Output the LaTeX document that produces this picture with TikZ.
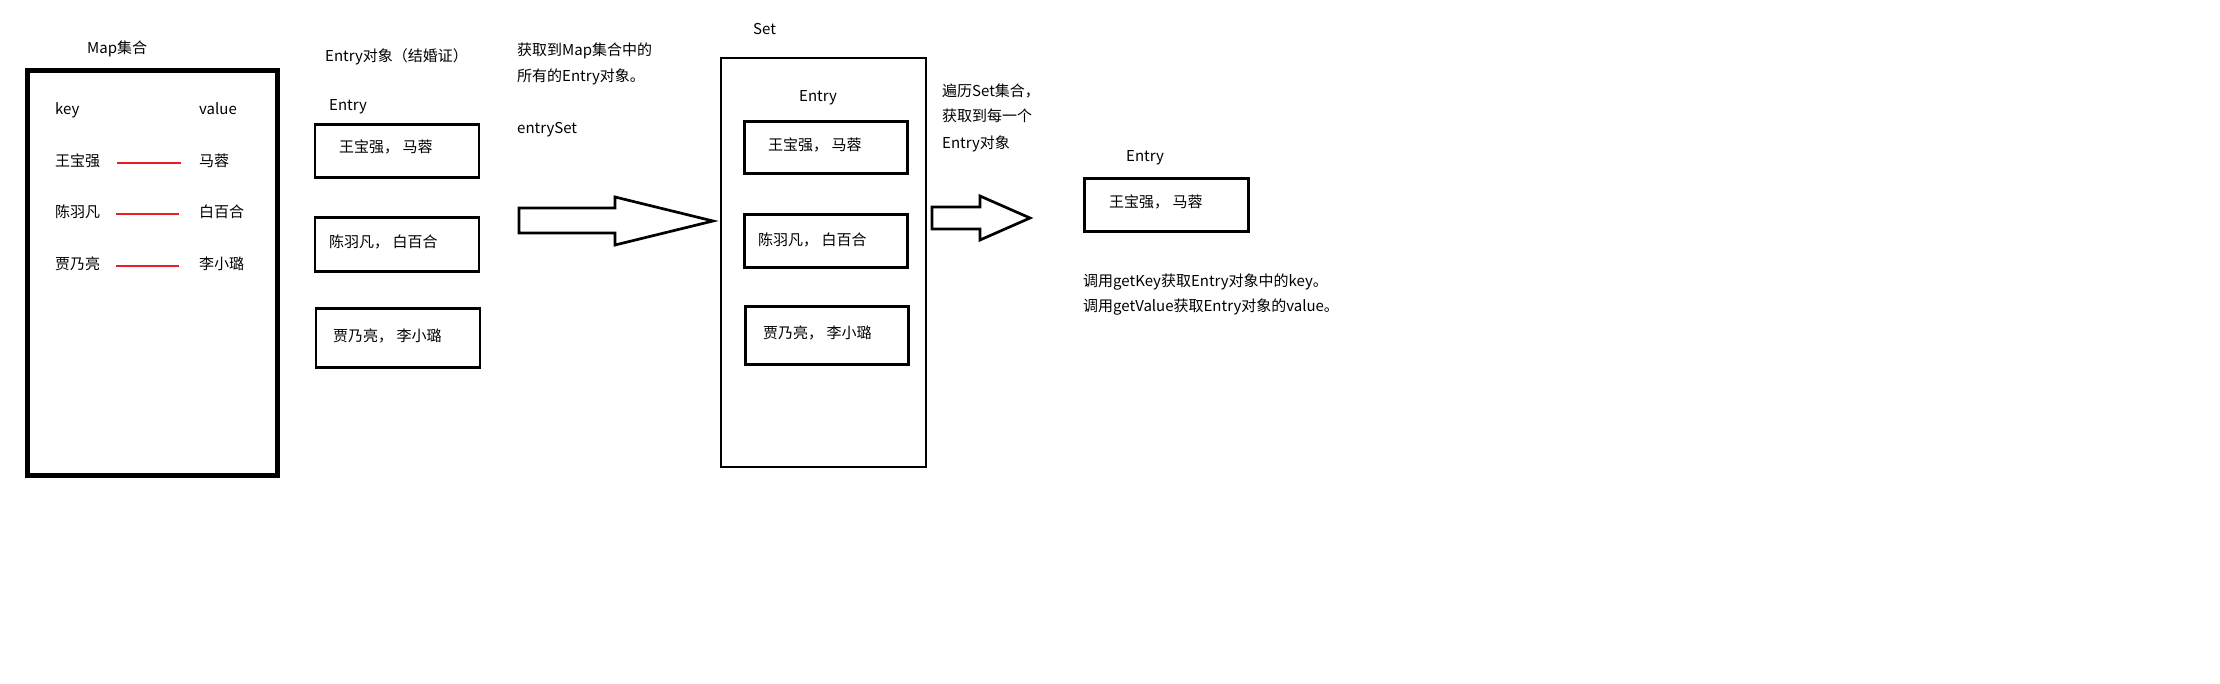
\documentclass[tikz,border=0pt]{standalone}
\usepackage{fontspec}
\setmainfont{Noto Sans CJK SC}
\begin{document}
\begin{tikzpicture}[x=1pt,y=-1pt,
  txt/.style={inner sep=0pt,anchor=west,text height=0.88em,text depth=0.12em,font=\fontsize{15pt}{18pt}\selectfont},
  mapbox/.style={draw,line width=5pt,inner sep=0pt},
  setbox/.style={draw,line width=2.7pt,inner sep=0pt},
  ebox/.style={draw,line width=2.8pt,inner sep=0pt,minimum width=164pt},
  redline/.style={draw={rgb,255:red,232;green,28;blue,36},line width=1.3pt},
  blockarrow/.style={draw,line width=2.7pt,line join=miter,fill=white}]
\useasboundingbox (0,0) rectangle (2220,683);
% Map
\node[txt] (mapt) at (87,50) {Map集合};
\node[mapbox,minimum width=250pt,minimum height=405pt] (map) at (152.5,273) {};
\node[txt] (key) at (55,111) {key};
\node[txt] (val) at (199,111) {value};
\node[txt] (k1) at (55,163) {王宝强};
\node[txt] (v1) at (199,163) {马蓉};
\node[txt] (k2) at (55,214) {陈羽凡};
\node[txt] (v2) at (199,214) {白百合};
\node[txt] (k3) at (55,266) {贾乃亮};
\node[txt] (v3) at (199,266) {李小璐};
\draw[redline] ([xshift=17pt]k1.east) -- ([xshift=-18pt]v1.west);
\draw[redline] ([xshift=16pt]k2.east) -- ([xshift=-20pt]v2.west);
\draw[redline] ([xshift=16pt]k3.east) -- ([xshift=-20pt]v3.west);
% Entry objects
\node[txt] (et) at (325,58) {Entry对象（结婚证）};
\node[txt] (el) at (329,107) {Entry};
\node[ebox,minimum height=53pt] (b1) at (397,151) {};
\node[txt] (t1) at (339,149) {王宝强， 马蓉};
\node[ebox,minimum height=54pt] (b2) at (397,244.5) {};
\node[txt] (t2) at (329,244) {陈羽凡， 白百合};
\node[ebox,minimum height=59pt] (b3) at (398,338) {};
\node[txt] (t3) at (333,338) {贾乃亮， 李小璐};
% description 1
\node[txt] (d1) at (517,52) {获取到Map集合中的};
\node[txt] (d2) at (517,78) {所有的Entry对象。};
\node[txt] (es) at (517,130) {entrySet};
\draw[blockarrow] (519,208) -- (615,208) -- (615,197) -- (713,221) -- (615,245) -- (615,233) -- (519,233) -- cycle;
% Set
\node[txt] (st) at (753,31) {Set};
\node[setbox,minimum width=205pt,minimum height=409pt] (set) at (823.5,262.5) {};
\node[txt] (sel) at (799,98) {Entry};
\node[ebox,minimum width=163pt,minimum height=52pt] (s1) at (826,147.5) {};
\node[txt] (st1) at (768,147) {王宝强， 马蓉};
\node[ebox,minimum width=163pt,minimum height=53pt] (s2) at (826,241) {};
\node[txt] (st2) at (758,242) {陈羽凡， 白百合};
\node[ebox,minimum width=163pt,minimum height=58pt] (s3) at (827,335.5) {};
\node[txt] (st3) at (763,335) {贾乃亮， 李小璐};
% description 2
\node[txt] (f1) at (942,93) {遍历Set集合，};
\node[txt] (f2) at (942,118) {获取到每一个};
\node[txt] (f3) at (942,145) {Entry对象};
\draw[blockarrow] (932,207) -- (980,207) -- (980,196) -- (1030,218) -- (980,240) -- (980,229) -- (932,229) -- cycle;
% single entry
\node[txt] (rl) at (1126,158) {Entry};
\node[ebox,minimum width=164pt,minimum height=53pt] (r) at (1166.5,205) {};
\node[txt] (rt) at (1109,204) {王宝强， 马蓉};
\node[txt] (g1) at (1083,283) {调用getKey获取Entry对象中的key。};
\node[txt] (g2) at (1083,308) {调用getValue获取Entry对象的value。};
\end{tikzpicture}
\end{document}
